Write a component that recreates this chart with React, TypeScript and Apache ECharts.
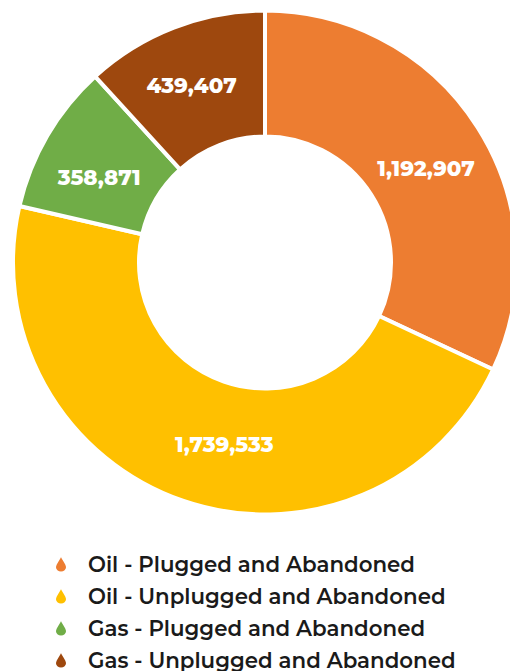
import React, { useEffect, useRef } from "react";
import * as echarts from "echarts";

const categories = [
  "Oil - Plugged and Abandoned",
  "Oil - Unplugged and Abandoned",
  "Gas - Plugged and Abandoned",
  "Gas - Unplugged and Abandoned",
];
const wellCounts = [1192907, 1739533, 358871, 439407];
const sliceColors = ["#ED7D31", "#FFC000", "#70AD47", "#9E480E"];
// Hand-placed shifts for the value labels, in the same order as the slices.
const labelShifts = [
  [-1, 9],
  [22, 0],
  [0, 11],
  [-4, 2],
];
const dropPath =
  "path://M50 0 C58 28 84 50 84 72 A34 30 0 0 1 16 72 C16 50 42 28 50 0 Z";
const fontFamily = "Montserrat, 'Open Sans', 'Noto Sans', sans-serif";

export default function App() {
  const ref = useRef<HTMLDivElement>(null);
  useEffect(() => {
    const chart = echarts.init(ref.current!, undefined, { renderer: "svg" });
    chart.setOption({
      animation: false,
      legend: {
        orient: "vertical",
        left: 54,
        top: 553,
        height: 118,
        padding: 0,
        itemWidth: 18,
        itemHeight: 18,
        itemGap: 11,
        icon: dropPath,
        textStyle: {
          fontFamily,
          fontSize: 21.33,
          fontWeight: 600,
          lineHeight: 20,
          color: "#1a1a1a",
          padding: [0, 0, 0, 13],
        },
        data: categories,
      },
      series: [
        {
          type: "pie",
          center: [265, 262.5],
          radius: [126, 252],
          startAngle: 90,
          clockwise: true,
          itemStyle: { borderColor: "#fff", borderWidth: 4 },
          label: {
            position: "inside",
            formatter: (p: { value: number }) => p.value.toLocaleString("en-US"),
            color: "#fff",
            fontFamily,
            fontSize: 21.33,
            fontWeight: 800,
          },
          labelLine: { show: false },
          data: categories.map((name, i) => ({
            name,
            value: wellCounts[i],
            itemStyle: { color: sliceColors[i] },
            label: { offset: labelShifts[i] },
          })),
        },
      ],
    });
    return () => chart.dispose();
  }, []);
  return <div ref={ref} style={{ width: 510, height: 671, position: "absolute", left: 0, top: 0 }} />;
}
